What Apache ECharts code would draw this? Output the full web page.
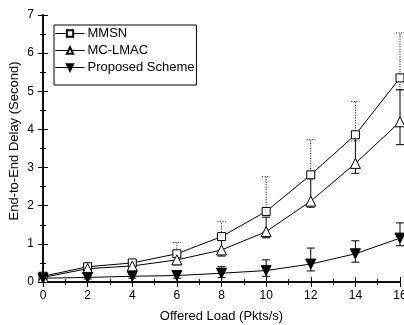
<!DOCTYPE html>
<html><head><meta charset="utf-8">
<script src="https://cdn.jsdelivr.net/npm/echarts@6/dist/echarts.min.js"></script>
<style>html,body{margin:0;padding:0;background:#fff}#c{width:404px;height:325px}</style>
</head><body><div id="c"></div>
<script>
const loads = [0, 2, 4, 6, 8, 10, 12, 14, 16];
const mmsn = [0.15, 0.40, 0.50, 0.74, 1.19, 1.85, 2.81, 3.86, 5.35];
const mmsnLow = [0.12, 0.35, 0.45, 0.68, 1.12, 1.75, 2.70, 3.70, 5.04];
const mmsnHigh = [0.18, 0.45, 0.56, 1.04, 1.58, 2.76, 3.73, 4.73, 6.53];
const mclmac = [0.12, 0.35, 0.42, 0.58, 0.84, 1.32, 2.12, 3.11, 4.20];
const mclmacLow = [0.09, 0.30, 0.36, 0.45, 0.68, 1.16, 1.96, 2.85, 3.60];
const mclmacHigh = [0.15, 0.42, 0.50, 0.68, 1.15, 1.70, 2.87, 3.80, 5.04];
const proposed = [0.10, 0.12, 0.15, 0.17, 0.23, 0.30, 0.47, 0.74, 1.15];
const propLow = [0.08, 0.08, 0.10, 0.10, 0.12, 0.15, 0.29, 0.52, 0.95];
const propHigh = [0.12, 0.16, 0.20, 0.30, 0.40, 0.58, 0.89, 1.08, 1.55];
const names = ['MMSN', 'MC-LMAC', 'Proposed Scheme'];
const xLabel = 'Offered Load (Pkts/s)';
const yLabel = 'End-to-End Delay (Second)';

const FONT = 'Liberation Sans, Arial, sans-serif';
const chart = echarts.init(document.getElementById('c'));

function errSeries(low, high, dashed) {
  return {
    type: 'custom',
    silent: true,
    z: 1,
    data: loads.map((x, i) => [x, low[i], high[i]]),
    renderItem: function (params, api) {
      const x = api.value(0);
      const p1 = api.coord([x, api.value(1)]);
      const p2 = api.coord([x, api.value(2)]);
      const cw = 4;
      const style = { stroke: '#000', lineWidth: 1, lineDash: dashed ? [1, 1.5] : null };
      return {
        type: 'group',
        children: [
          { type: 'line', shape: { x1: p1[0], y1: p1[1], x2: p2[0], y2: p2[1] }, style: style },
          { type: 'line', shape: { x1: p1[0] - cw, y1: p1[1], x2: p1[0] + cw, y2: p1[1] }, style: style },
          { type: 'line', shape: { x1: p2[0] - cw, y1: p2[1], x2: p2[0] + cw, y2: p2[1] }, style: style }
        ]
      };
    },
    encode: { x: 0, y: [1, 2] }
  };
}

function lineSeries(name, vals, symbol, fill, rotate, size) {
  return {
    name: name,
    type: 'line',
    z: 3,
    data: loads.map((x, i) => [x, vals[i]]),
    symbol: symbol,
    symbolSize: size,
    symbolRotate: rotate,
    showAllSymbol: true,
    lineStyle: { color: '#000', width: 1 },
    itemStyle: { color: fill, borderColor: '#000', borderWidth: 1 },
    emphasis: { disabled: true },
    animation: false
  };
}

const axisCommon = {
  axisLine: { lineStyle: { color: '#000', width: 1.5 } },
  axisTick: { inside: true, length: 5, lineStyle: { color: '#000', width: 1 } },
  minorTick: { show: true, splitNumber: 2, length: 3, lineStyle: { color: '#000', width: 1 } },
  splitLine: { show: false }
};

chart.setOption({
  animation: false,
  backgroundColor: '#fff',
  grid: { left: 43, right: 4, top: 15, bottom: 43, outerBoundsMode: 'none', containLabel: false },
  legend: {
    data: names,
    orient: 'vertical',
    left: 54,
    top: 25,
    itemWidth: 29,
    itemHeight: 8,
    itemGap: 2,
    padding: [1, 2, 10, 1],
    borderColor: '#000',
    borderWidth: 1,
    lineStyle: { width: 1, color: '#000' },
    textStyle: { fontFamily: FONT, fontSize: 13, color: '#000', lineHeight: 15, padding: [0, 0, 0, -2] }
  },
  graphic: [{
    type: 'text',
    x: 14.5,
    y: 141,
    rotation: Math.PI / 2,
    style: { text: yLabel, font: '13px ' + FONT, fill: '#000', textAlign: 'center', textVerticalAlign: 'middle' }
  }],
  xAxis: [
    Object.assign({}, axisCommon, {
      type: 'value', min: 0, max: 16, interval: 2,
      name: xLabel, nameLocation: 'middle', nameGap: 28,
      nameTextStyle: { fontFamily: FONT, fontSize: 13, color: '#000' },
      axisLabel: { fontFamily: FONT, fontSize: 12, color: '#000', margin: 8 }
    }),
    Object.assign({}, axisCommon, {
      type: 'value', min: 0, max: 16, interval: 2, position: 'top',
      axisLabel: { show: false }
    })
  ],
  yAxis: [
    Object.assign({}, axisCommon, {
      type: 'value', min: 0, max: 7, interval: 1,
      axisLabel: { fontFamily: FONT, fontSize: 12, color: '#000', margin: 9 }
    }),
    Object.assign({}, axisCommon, {
      type: 'value', min: 0, max: 7, interval: 1, position: 'right',
      axisLabel: { show: false }
    })
  ],
  series: [
    errSeries(mmsnLow, mmsnHigh, true),
    errSeries(mclmacLow, mclmacHigh, false),
    errSeries(propLow, propHigh, false),
    lineSeries(names[0], mmsn, 'rect', '#fff', 0, 8),
    lineSeries(names[1], mclmac, 'triangle', '#fff', 0, 10),
    lineSeries(names[2], proposed, 'triangle', '#000', 180, 10)
  ]
});
</script>
</body></html>
